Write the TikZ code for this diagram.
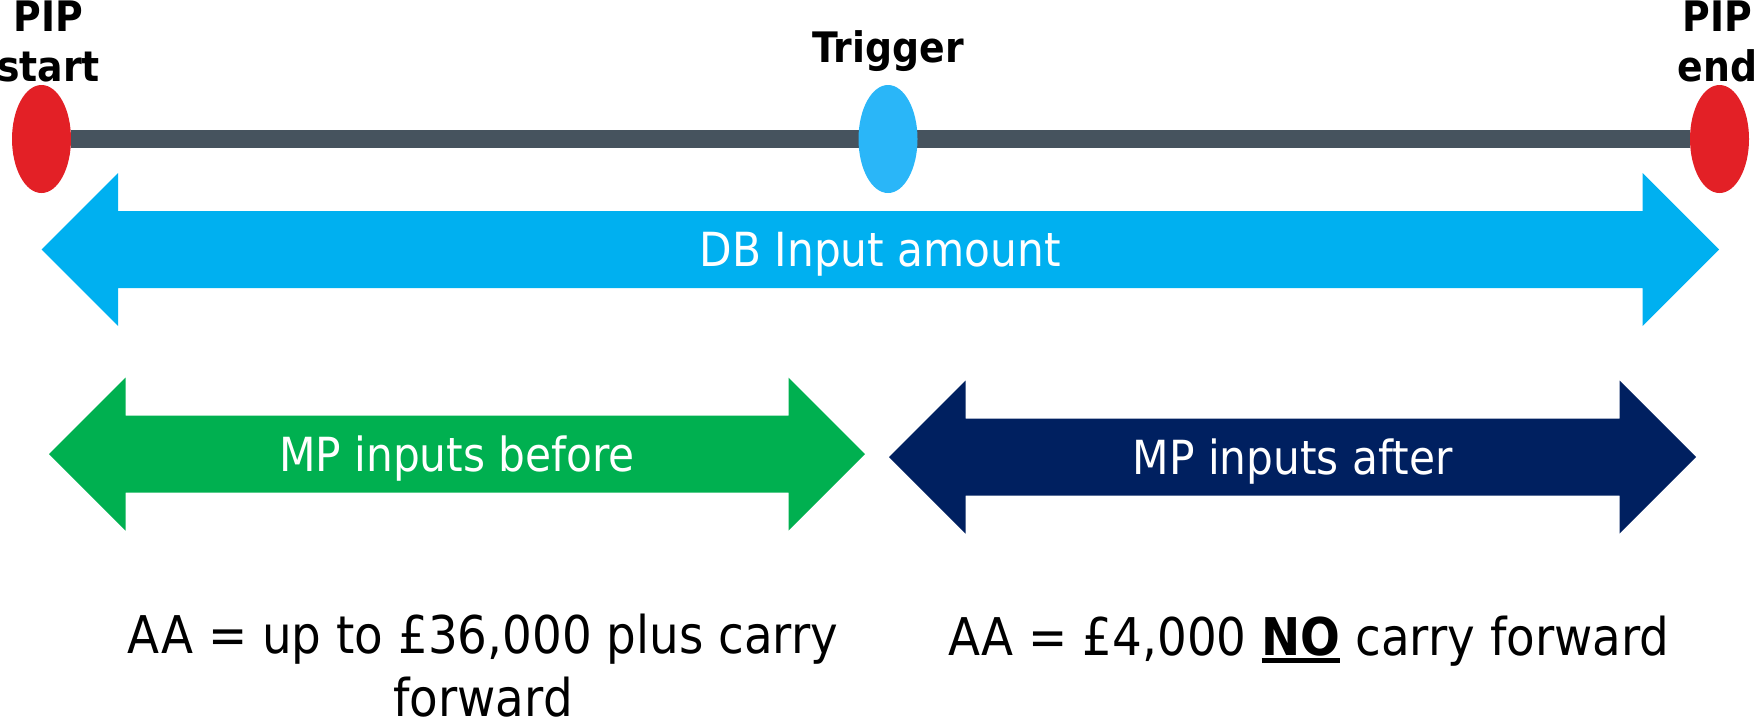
\documentclass[tikz,border=0pt]{standalone}
\usepackage{fontspec}
\setmainfont{DejaVu Sans}[FakeStretch=0.9]
\usetikzlibrary{shapes.geometric, positioning}

\definecolor{pipred}{HTML}{E32026}
\definecolor{triggerblue}{HTML}{2AB6F8}
\definecolor{timeline}{HTML}{46535E}
\definecolor{dbblue}{HTML}{00B0F0}
\definecolor{mpgreen}{HTML}{00B050}
\definecolor{mpnavy}{HTML}{002060}

% heavy underline for the emphasised word
\newcommand{\thickul}[1]{\setbox0\hbox{#1}\rlap{\rule[-3.5pt]{\wd0}{2.5pt}}\box0\relax}

\begin{document}
\begin{tikzpicture}[
    x=0.5pt, y=-0.5pt,
    marker/.style={ellipse, minimum width=29.5pt, minimum height=54pt, inner sep=0pt},
    tag/.style={font=\fontsize{21}{25}\selectfont\bfseries, align=center, inner sep=0pt},
    bandtext/.style={font=\fontsize{23.5}{28}\selectfont, text=white, anchor=base, inner sep=0pt},
    note/.style={font=\fontsize{26}{31.5}\selectfont, align=center, anchor=north, inner sep=0pt}
]
\useasboundingbox (0,0) rectangle (1760,725);

% Timeline with PIP markers
\node[marker, fill=pipred] (pipstart) at (41.5,139) {};
\node[marker, fill=pipred] (pipend) at (1719.5,139) {};
\draw[timeline, line width=9pt] (pipstart) -- (pipend);
\node[marker, fill=triggerblue] (trigger) at (888,139) {};

\node[tag, above=1pt of pipstart, xshift=3.5pt] (startlabel) {PIP\\start};
\node[tag, above=1pt of pipend, xshift=-1pt] (endlabel) {PIP\\end};
\node[tag, above=6.5pt of trigger] (triggerlabel) {Trigger};

% Double-headed spans
\foreach \name/\xa/\xb/\yc/\col/\txt in {db/41.7/1719/249.5/dbblue/DB Input amount, before/49/865/454/mpgreen/MP inputs before, after/889/1696/457/mpnavy/MP inputs after}
{
  \fill[\col] (\xa,\yc) -- (\xa+76.5,\yc-76.5) -- (\xa+76.5,\yc-38.5) -- (\xb-76.5,\yc-38.5)
    -- (\xb-76.5,\yc-76.5) -- (\xb,\yc) -- (\xb-76.5,\yc+76.5) -- (\xb-76.5,\yc+38.5)
    -- (\xa+76.5,\yc+38.5) -- (\xa+76.5,\yc+76.5) -- cycle;
  \node[bandtext] (\name) at ({(\xa+\xb)/2},\yc+17) {\txt};
}

% Allowance notes
\node[note] (aabefore) at (483,614) {AA = up to £36,000 plus carry\\forward};
\node[note] (aaafter) at (1309,616) {AA = £4,000 \thickul{\textbf{NO}} carry forward};
\end{tikzpicture}
\end{document}
